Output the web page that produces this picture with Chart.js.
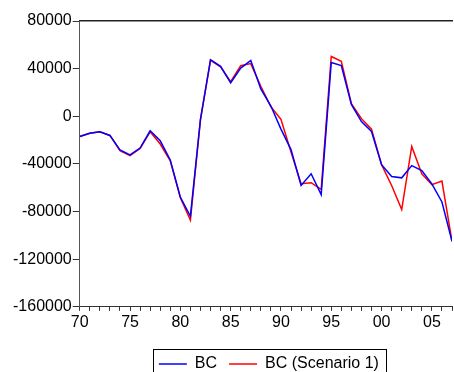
<!DOCTYPE html>
<html>
<head>
<meta charset="utf-8">
<script src="https://cdn.jsdelivr.net/npm/chart.js@4.4.1/dist/chart.umd.min.js"></script>
<style>
  html, body { margin: 0; padding: 0; background: #fff; }
  #wrap { width: 454px; height: 372px; }
</style>
</head>
<body>
<div id="wrap"><canvas id="chart"></canvas></div>
<script>
const years = [];
for (let y = 1970; y <= 2007; y++) years.push(y);

// BC, actual
const bc = [
  -17000, -14200, -13100, -16100, -28300, -32500, -26700, -12200, -20600, -36700,
  -67800, -84000, -2500, 47500, 41900, 28000, 40500, 46900, 23000, 8600,
  -10800, -28000, -58100, -48300, -65800, 45200, 42500, 10000, -4500, -12800,
  -40600, -50600, -51700, -41400, -45600, -56700, -72000, -105000
];

// BC (Scenario 1)
const bcScenario = [
  -17000, -14200, -13100, -16100, -28800, -33000, -27000, -13100, -23300, -37500,
  -68500, -87200, -3000, 47000, 41500, 29000, 42500, 44200, 25200, 8000,
  -2500, -30000, -56700, -55800, -61400, 50200, 46100, 10500, -2000, -10800,
  -40600, -58100, -78300, -25300, -48300, -57500, -54400, -105000
];

const yTicks = [-160000, -120000, -80000, -40000, 0, 40000, 80000];

const toPoints = (vals) => vals.map((v, i) => ({ x: years[i], y: v }));

// legend centred under plot + thin frame round it
const legendFrame = {
  id: "legendFrame",
  afterLayout(chart) {
    const lg = chart.legend;
    lg.left = chart.chartArea.left + 3;
    lg.right = chart.chartArea.right + 3;
    lg.top += 10;
    lg.bottom += 10;
  },
  afterDraw(chart) {
    const boxes = chart.legend.legendHitBoxes;
    if (!boxes || !boxes.length) return;
    const l = Math.min(...boxes.map((b) => b.left)) - 6;
    const r = Math.max(...boxes.map((b) => b.left + b.width)) + 7;
    const t = Math.min(...boxes.map((b) => b.top)) - 7;
    const ctx = chart.ctx;
    ctx.save();
    ctx.strokeStyle = "#000";
    ctx.lineWidth = 1;
    ctx.strokeRect(Math.round(l) + 0.5, Math.round(t) + 0.5, Math.round(r - l), 60);
    ctx.restore();
  },
};

const font = { family: "'Liberation Sans', Arial, sans-serif", size: 16 };

new Chart(document.getElementById("chart"), {
  type: "line",
  data: {
    datasets: [
      {
        label: "BC",
        data: toPoints(bc),
        borderColor: "#0000ff",
        backgroundColor: "#0000ff",
        borderWidth: 1.5,
        pointRadius: 0,
        tension: 0,
      },
      {
        label: "BC (Scenario 1)",
        data: toPoints(bcScenario),
        borderColor: "#ff0000",
        backgroundColor: "#ff0000",
        borderWidth: 1.5,
        pointRadius: 0,
        tension: 0,
      },
    ],
  },
  options: {
    responsive: true,
    maintainAspectRatio: false,
    animation: false,
    layout: { padding: { top: 21, left: 12, right: 0, bottom: 0 } },
    plugins: {
      legend: {
        position: "bottom",
        labels: {
          usePointStyle: true,
          pointStyle: "line",
          pointStyleWidth: 28,
          boxWidth: 28,
          padding: 12,
          color: "#000",
          font: font,
        },
      },
      tooltip: { enabled: false },
    },
    scales: {
      x: {
        type: "linear",
        min: 1970,
        max: 2007,
        border: { color: "#333", width: 1 },
        grid: { drawOnChartArea: false, drawTicks: true, tickLength: 4, color: "#333" },
        ticks: {
          stepSize: 1,
          autoSkip: false,
          maxRotation: 0,
          padding: 2,
          color: "#000",
          font: font,
          callback: (v) => (v % 5 === 0 ? String(v % 100).padStart(2, "0") : ""),
        },
      },
      xTop: {
        type: "linear",
        position: "top",
        min: 1970,
        max: 2007,
        border: { color: "#222", width: 1.5 },
        grid: { drawOnChartArea: false, drawTicks: false },
        ticks: { display: false },
      },
      y: {
        min: yTicks[0],
        max: yTicks[yTicks.length - 1],
        afterBuildTicks: (axis) => {
          axis.ticks = yTicks.map((v) => ({ value: v }));
        },
        border: { color: "#555", width: 1 },
        grid: { drawOnChartArea: false, drawTicks: true, tickLength: 7, color: "#333" },
        ticks: {
          padding: 1,
          color: "#000",
          font: font,
          callback: (v) => String(v),
        },
      },
    },
  },
  plugins: [legendFrame],
});
</script>
</body>
</html>
